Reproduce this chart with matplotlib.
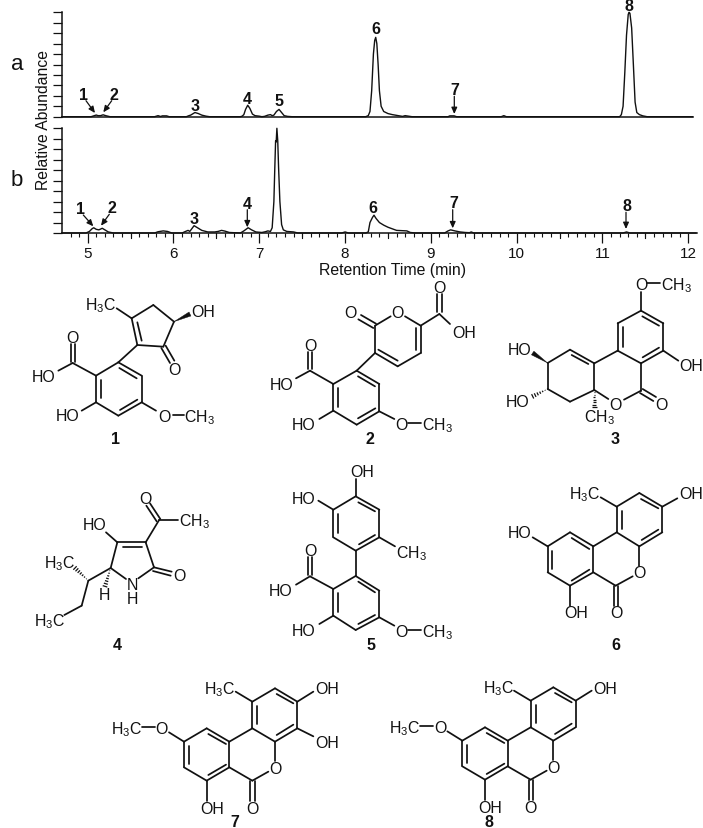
import math
import matplotlib
matplotlib.use("Agg")
import matplotlib.pyplot as plt
from matplotlib.collections import LineCollection
from matplotlib.patches import Polygon

plt.rcParams['font.family'] = ['Liberation Sans', 'DejaVu Sans']
plt.rcParams['mathtext.fontset'] = 'custom'
plt.rcParams['mathtext.rm'] = 'Liberation Sans'
plt.rcParams['mathtext.default'] = 'regular'

# ---------- chromatogram data ----------
time_a = [4.70,5.04,5.07,5.10,5.12,5.15,5.18,5.21,5.26,5.78,5.82,5.85,5.87,5.92,5.95,6.15,6.18,6.20,6.25,6.29,6.33,6.38,6.42,
          6.78,6.80,6.82,6.84,6.865,6.89,6.92,6.95,7.00,7.03,7.06,7.10,7.13,7.15,7.17,7.20,7.23,7.26,7.29,7.33,7.38,
          8.24,8.27,8.29,8.31,8.33,8.345,8.357,8.37,8.385,8.40,8.42,8.45,8.50,8.55,8.62,8.67,8.70,8.74,8.78,
          9.20,9.22,9.27,9.30,9.82,9.85,9.88,11.20,11.22,11.24,11.26,11.28,11.30,11.31,11.32,11.34,11.36,11.38,11.40,11.43,11.47,11.52,12.05]
abund_a = [0,0,0.8,1.6,1,1,1.8,1,0,0,1,0.2,0.8,0.8,0,0,1,1.5,4,3,1.5,0.5,0,
           0,0.5,2,7,11,8,2.5,1,0.5,0,0.3,1.5,2,1,1.5,5,7,4,1,0.3,0,
           0,1,5,25,60,73,76,70,50,25,10,5,3,2,1,0.3,1,0.5,0,
           0,0.8,0.8,0,0,1,0,0,2,10,42,78,98,100,99,85,50,14,4,2,0.8,0,0]
time_b = [4.70,4.98,5.02,5.05,5.07,5.10,5.13,5.17,5.20,5.24,5.30,5.78,5.82,5.88,5.93,5.98,6.10,6.14,6.17,6.19,6.24,6.28,6.33,6.40,6.48,6.52,6.56,6.60,6.65,
          6.78,6.82,6.87,6.91,6.96,7.03,7.07,7.10,7.13,7.15,7.17,7.18,7.19,7.197,7.205,7.215,7.225,7.24,7.26,7.28,7.32,7.40,7.45,
          7.96,8.00,8.04,8.24,8.27,8.29,8.32,8.337,8.36,8.40,8.45,8.50,8.55,8.60,8.72,8.76,8.82,
          9.16,9.20,9.23,9.28,9.34,9.40,9.45,9.47,9.50,11.24,11.28,11.32,12.09]
abund_b = [0,0,1.5,4,5,3.5,3,4.5,3,1,0,0,1.2,2,1.5,0,0,1.5,2.5,1.5,7,5,2.5,1,1,1.5,2.5,1.8,0.5,
           0,2,5,3,1,0.5,1.2,2,1.5,5,30,60,88,87,100,88,62,30,8,3,1.5,1,0,
           0,1,0,0,1,10,15,17,14,10,7.5,5.5,4,2.5,2,0.5,0,
           0,2,3,2,1,0.5,0.3,1,0,0,1,0,0]

y_ticks = [0,10,20,30,40,50,60,70,80,90,100]
x_ticks = [5,6,7,8,9,10,11,12]
x_label = "Retention Time (min)"
y_label = "Relative Abundance"

W, H = 703, 829
fig = plt.figure(figsize=(W/100, H/100), dpi=100)
C = '#111111'

def make_axes(left, right, top, bottom, xmin, xmax):
    ax = fig.add_axes([left/W, 1-bottom/H, (right-left)/W, (bottom-top)/H])
    ax.set_xlim(xmin, xmax)
    ax.set_ylim(0, 100)
    for s in ('top', 'right'):
        ax.spines[s].set_visible(False)
    for s in ('left', 'bottom'):
        ax.spines[s].set_linewidth(1.1)
        ax.spines[s].set_color(C)
    ax.set_yticks(y_ticks)
    ax.set_yticklabels([])
    ax.tick_params(axis='y', length=6.2, width=0.9, color=C)
    ax.patch.set_alpha(0)
    return ax

ax_a = make_axes(61.7, 693, 13.3, 117.7, 4.697, 12.055)
ax_a.set_xticks([])
ax_a.plot(time_a, abund_a, color=C, lw=1.0, clip_on=False)

ax_b = make_axes(61.7, 696.7, 129.3, 234, 4.697, 12.098)
ax_b.plot(time_b, abund_b, color=C, lw=1.0, clip_on=False)
ax_b.set_xticks(x_ticks)
ax_b.set_xticklabels([str(t) for t in x_ticks], fontsize=11, color=C)
ax_b.tick_params(axis='x', length=7.5, width=0.9, color=C, pad=1.5)
ax_b.set_xticks([4.8+0.1*i for i in range(73) if (i+8) % 10 != 0], minor=True)
ax_b.tick_params(axis='x', which='minor', length=2.8, width=0.8, color=C)
for t in [5.5+i for i in range(7)]:
    ax_b.plot([t, t], [0, -4.4], color=C, lw=0.8, clip_on=False)

# ---------- overlay in picture pixels ----------
ov = fig.add_axes([0, 0, 1, 1], zorder=5)
ov.set_xlim(0, W); ov.set_ylim(H, 0); ov.axis('off')

def T(x, y, s, size=11.4, weight='normal', ha='center', rot=0):
    ov.text(x, y, s, fontsize=size, fontweight=weight, ha=ha, va='center', color=C, rotation=rot)

T(43.5, 120, y_label, rot=90, size=11.3)
T(393, 270.5, x_label, size=11.4)
T(17.5, 64, "a", size=16)
T(17, 180, "b", size=16)

peak_texts = [("1",83.3,95.7),("2",114.3,95.7),("3",195,106),("4",247,99),("5",279,101),("6",375.7,29),("7",454.7,90),("8",628.7,6),
              ("1",80.3,209.3),("2",112,208.7),("3",194,219),("4",247.3,204),("6",373.3,208.3),("7",454,203.3),("8",626.7,206)]
for s, x, y in peak_texts:
    T(x, y, s, size=11.5, weight='bold')
peak_arrows = [(86,101.7,95,114),(111.7,101.7,103.3,113.3),(454.3,97.3,454.3,115),
               (83.3,216,93.3,227.3),(109.3,215.3,101,226.7),(247.3,210.7,247.3,228.3),
               (452.7,210.7,452.7,229.3),(626,213.3,626,230)]
for x0, y0, x1, y1 in peak_arrows:
    ov.annotate("", xy=(x1, y1), xytext=(x0, y0),
                arrowprops=dict(arrowstyle='-|>,head_width=0.17,head_length=0.38', color=C, lw=0.9, shrinkA=0, shrinkB=0))

# ---------- structures ----------
def draw(ox, oy, bonds, labels, wedges=(), hashes=(), dx=0, dy=0, scale=3.0):
    P = lambda x, y: (ox + (x+dx)/scale, oy + (y+dy)/scale)
    segs = [[P(a, b), P(c, d)] for a, b, c, d in bonds]
    ov.add_collection(LineCollection(segs, colors=C, linewidths=1.25, capstyle='round'))
    for x, y, s in labels:
        px, py = P(x, y)
        T(px, py, s)
    for a, b, c, d in wedges:
        p0, p1 = P(a, b), P(c, d)
        L = math.hypot(p1[0]-p0[0], p1[1]-p0[1])
        nx, ny = -(p1[1]-p0[1])/L*2.2, (p1[0]-p0[0])/L*2.2
        ov.add_patch(Polygon([p0, (p1[0]+nx, p1[1]+ny), (p1[0]-nx, p1[1]-ny)], closed=True, fc=C, ec=C, lw=0.3))
    for a, b, c, d in hashes:
        p0, p1 = P(a, b), P(c, d)
        L = math.hypot(p1[0]-p0[0], p1[1]-p0[1])
        ux, uy = (p1[0]-p0[0])/L, (p1[1]-p0[1])/L
        n = int(L/2.4)
        hs = []
        for i in range(1, n+1):
            f = i/n
            cx, cy = p0[0]+ux*L*f, p0[1]+uy*L*f
            w = 2.4*f
            hs.append([(cx-uy*w, cy+ux*w), (cx+uy*w, cy-ux*w)])
        ov.add_collection(LineCollection(hs, colors=C, linewidths=0.9))

CH3 = "CH$_3$"
H3C = "H$_3$C"

# compound 1
draw(0, 280,
     [(288,290,355,250),(355,250,425,290),(425,290,425,370),(425,370,355,410),(355,410,288,370),(288,370,288,290),
      (303,302,303,358),(358,267,410,298),(412,362,360,393),
      (288,290,218,252),(212,250,212,195),(225,250,225,195),(218,252,175,275),(288,370,245,395),
      (425,370,468,395),(520,408,553,408),(355,250,412,198),
      (412,198,395,118),(425,185,412,130),(395,118,460,78),(460,78,522,128),(522,128,490,203),(490,203,412,198),
      (484,207,510,252),(497,200,523,245),(395,118,350,88)],
     [(218,175,"O"),(132,293,"HO"),(202,410,"HO"),(492,412,"O"),(598,412,CH3),(524,272,"O"),(302,76,H3C),(610,97,"OH")],
     wedges=[(522,128,570,105)])
T(116, 439.5, "1", size=11.5, weight='bold')

# compound 2
draw(350, 280,
     [(-50,315,20,275),(20,275,88,315),(88,315,88,397),(88,397,20,437),(20,437,-50,395),(-50,395,-50,315),
      (-36,328,-36,383),(24,292,75,322),(76,388,24,418),
      (-50,315,-120,275),(-126,270,-126,220),(-113,270,-113,220),(-120,275,-162,298),(-50,395,-92,420),
      (88,397,133,420),(175,432,213,432),
      (20,275,75,222),(75,222,75,140),(75,140,122,112),(165,112,212,140),(212,140,212,222),(212,222,143,262),(143,262,75,222),
      (85,212,143,245),(198,148,198,212),(78,134,33,108),(70,147,25,121),
      (212,140,268,105),(262,100,262,45),(275,100,275,45),(268,105,300,135)],
     [(-120,198,"O"),(-205,318,"HO"),(-138,437,"HO"),(155,438,"O"),(262,438,CH3),(0,100,"O"),(143,100,"O"),(268,25,"O"),(342,160,"OH")])
T(370, 439.5, "2", size=11.5, weight='bold')

# compound 3
draw(350, 280,
     [(873,95,940,133),(940,133,940,215),(940,215,873,253),(873,253,803,215),(803,215,803,133),(803,133,873,95),
      (818,145,818,205),(877,112,927,140),(927,206,878,235),
      (873,95,873,40),(892,13,930,13),(940,215,985,245),
      (873,253,873,335),(873,335,822,362),(775,360,733,333),(870,342,910,366),(878,330,918,354),
      (803,215,733,253),(733,253,733,333),(733,253,660,212),(715,255,665,228),(660,212,593,252),(593,252,593,330),(593,330,660,368),(660,368,733,333)],
     [(873,17,"O"),(980,17,CH3),(1022,260,"OH"),(797,375,"O"),(935,377,"O"),(508,210,"HO"),(503,368,"HO"),(748,414,CH3)],
     wedges=[(593,252,548,222)],
     hashes=[(593,330,548,352),(733,333,733,385)])
T(615, 439.5, "3", size=11.5, weight='bold')

# compound 4
draw(0, 470,
     [(437,220,352,220),(370,233,425,233),(352,220,332,297),(332,297,378,330),(415,328,462,295),(437,220,462,295),
      (462,295,515,308),(459,306,512,320),(437,220,478,152),(481,150,450,103),(470,157,439,110),(478,152,533,152),(352,220,318,190),
      (332,297,265,335),(265,335,245,410),(245,410,193,438)],
     [(537,320,"O"),(397,348,"N"),(397,390,"H"),(437,87,"O"),(583,155,CH3),(285,165,"HO"),(313,375,"H"),(180,280,H3C),(148,455,H3C)],
     hashes=[(332,297,315,352),(265,335,225,297)])
T(117.5, 645, "4", size=11.5, weight='bold')

# compound 5
draw(290, 460,
     [(197,112,268,152),(268,152,268,235),(268,235,197,275),(197,275,130,235),(130,235,130,152),(130,152,197,112),
      (145,165,145,222),(205,130,255,157),(255,228,207,256),
      (197,112,197,60),(130,152,85,125),(268,235,315,262),(197,275,197,351),
      (197,351,268,395),(268,395,268,475),(268,475,197,513),(197,513,130,470),(130,470,130,390),(130,390,197,351),
      (145,402,145,458),(205,368,255,400),(255,468,205,495),
      (130,390,60,352),(54,347,54,295),(67,347,67,295),(60,352,18,377),(130,470,88,495),(268,475,313,500),(355,512,393,512)],
     [(215,37,"OH"),(42,117,"HO"),(363,280,CH3),(60,275,"O"),(-27,395,"HO"),(42,515,"HO"),(335,517,"O"),(442,517,CH3)])
T(371, 645, "5", size=11.5, weight='bold')

# compound 6
draw(350, 470,
     [(868,72,937,113),(937,113,937,190),(937,190,868,232),(868,232,800,190),(800,190,800,113),(800,113,868,72),
      (815,125,815,180),(873,90,925,118),(925,182,875,213),
      (937,113,982,88),(800,113,752,85),
      (800,190,730,232),(730,232,660,190),(660,190,593,232),(593,232,593,310),(593,310,660,350),(660,350,730,310),(730,310,730,232),
      (718,240,665,207),(607,245,607,300),(665,335,718,302),
      (593,232,548,205),(660,350,660,410),(730,310,797,350),(797,350,848,322),(868,232,868,290),
      (791,350,791,410),(804,350,804,410)],
     [(1022,73,"OH"),(705,75,H3C),(508,192,"HO"),(678,432,"OH"),(868,312,"O"),(798,432,"O")])
T(616, 645, "6", size=11.5, weight='bold')

# compounds 7 and 8 share the tricyclic core
core_bonds = [(315,118,382,158),(382,158,382,238),(382,238,315,278),(315,278,247,238),(247,238,247,158),(247,158,315,118),
      (262,170,262,225),(320,135,370,163),(370,227,320,258),
      (382,158,430,128),(247,158,197,128),
      (247,238,178,278),(178,278,110,238),(110,238,42,278),(42,278,42,355),(42,355,110,395),(110,395,178,355),(178,355,178,278),
      (168,285,115,255),(56,290,56,345),(115,378,168,347),
      (110,395,110,455),(178,355,247,395),(247,395,295,368),(315,278,315,335),
      (241,395,241,455),(254,395,254,455),
      (42,278,-3,250),(-85,235,-45,235)]
core_labels = [(150,120,H3C),(470,120,"OH"),(125,478,"OH"),(315,358,"O"),(247,478,"O"),(-25,238,"O"),(-130,238,H3C)]
draw(170, 650, core_bonds+[(382,238,430,262)], core_labels+[(470,280,"OH")])
T(235, 823, "7", size=11.5, weight='bold')
draw(170, 650, core_bonds, core_labels, dx=835, dy=-3)
T(489, 823, "8", size=11.5, weight='bold')

fig.savefig("out.png", dpi=100)
